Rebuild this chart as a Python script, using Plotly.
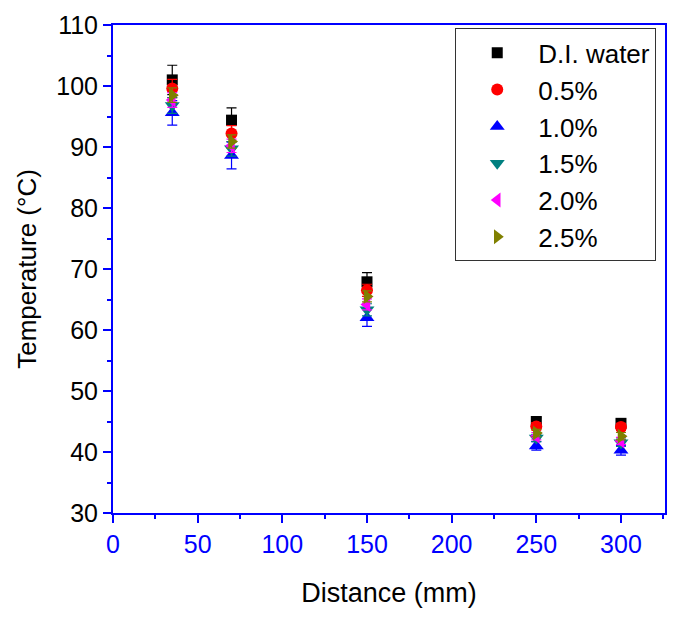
import plotly.graph_objects as go

distance = [35, 70, 150, 250, 300]
series_names = ["D.I. water", "0.5%", "1.0%", "1.5%", "2.0%", "2.5%"]
temp_di = [101.0, 94.4, 67.9, 45.0, 44.7]
temp_05 = [99.6, 92.2, 66.5, 44.2, 44.1]
temp_10 = [95.6, 88.6, 62.0, 41.0, 40.3]
temp_15 = [96.8, 89.7, 63.3, 42.3, 41.5]
temp_20 = [97.7, 90.2, 64.2, 42.6, 41.8]
temp_25 = [98.5, 90.9, 65.5, 43.1, 42.6]
err_di = [2.4, 2.0, 1.5, 0.6, 0.6]
err_05 = [1.5, 1.3, 1.0, 0.6, 0.6]
err_10 = [2.0, 2.2, 1.4, 0.7, 0.8]
err_15 = [1.3, 1.2, 1.0, 0.6, 0.6]
err_20 = [1.2, 1.1, 0.9, 0.6, 0.6]
err_25 = [1.2, 1.1, 0.9, 0.6, 0.6]

temps = [temp_di, temp_05, temp_10, temp_15, temp_20, temp_25]
errs = [err_di, err_05, err_10, err_15, err_20, err_25]
colors = ["#000000", "#ff0000", "#0000ff", "#008080", "#ff00ff", "#808000"]
symbols = ["square", "circle", "triangle-up", "triangle-down", "triangle-left", "triangle-right"]
sizes = [11, 12, 13, 13, 13, 13]

fig = go.Figure()
for name, t, e, c, s, sz in zip(series_names, temps, errs, colors, symbols, sizes):
    fig.add_trace(go.Scatter(
        x=distance, y=t, mode="markers", name=name,
        marker=dict(symbol=s, color=c, size=sz, line=dict(width=0)),
        error_y=dict(type="data", array=e, visible=True, color=c, thickness=1.2, width=5),
    ))

font_family = "Liberation Sans, Arial, sans-serif"
fig.update_layout(
    width=678, height=617,
    margin=dict(l=113, r=11, t=17, b=104),
    paper_bgcolor="white", plot_bgcolor="white",
    font=dict(family=font_family, color="black"),
    showlegend=True,
    legend=dict(
        x=0.62, y=0.993, xanchor="left", yanchor="top",
        bordercolor="#333333", borderwidth=1, bgcolor="white",
        font=dict(size=26, family=font_family, color="black"),
        itemsizing="trace", itemwidth=72,
    ),
    xaxis=dict(
        range=[0, 326], tickmode="array", tickvals=[0, 50, 100, 150, 200, 250, 300],
        ticks="outside", ticklen=8, tickwidth=2, tickcolor="#0000ff",
        minor=dict(ticks="outside", ticklen=4, tickwidth=2, tickcolor="#0000ff", dtick=25, tick0=0),
        showline=True, linecolor="#0000ff", linewidth=2, mirror=True,
        showgrid=False, zeroline=False,
        tickfont=dict(size=25, color="#0000ff", family=font_family),
        title=dict(text="Distance (mm)", font=dict(size=27, family=font_family, color="black"), standoff=26),
    ),
    yaxis=dict(
        range=[30, 110], tickmode="array", tickvals=[30, 40, 50, 60, 70, 80, 90, 100, 110],
        ticks="outside", ticklen=8, tickwidth=2, tickcolor="#0000ff",
        minor=dict(ticks="outside", ticklen=4, tickwidth=2, tickcolor="#0000ff", dtick=5, tick0=30),
        showline=True, linecolor="#0000ff", linewidth=2, mirror=True,
        showgrid=False, zeroline=False,
        tickfont=dict(size=25, color="black", family=font_family),
        title=dict(text="Temperature (°C)", font=dict(size=26, family=font_family, color="black"), standoff=12),
    ),
)

fig.write_html("out.html")
